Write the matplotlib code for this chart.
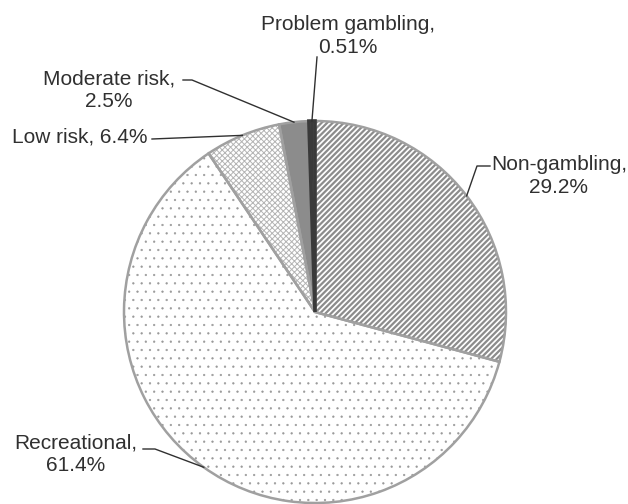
import numpy as np
import matplotlib.pyplot as plt

# data
labels = ['Non-gambling', 'Recreational', 'Low risk', 'Moderate risk', 'Problem gambling']
shares = [29.2, 61.4, 6.4, 2.5, 0.51]
pct_text = ['29.2%', '61.4%', '6.4%', '2.5%', '0.51%']

fills = ['white', 'white', 'white', '#8c8c8c', '#3a3a3a']
hatch_cols = ['#8c8c8c', '#999999', '#b4b4b4', '#8c8c8c', '#3a3a3a']
hatches = ['//////', '..', 'xxxxxx', '', '']
hatch_lw = [1.6, 0.4, 0.7, 1.0, 1.0]
outline_cols = ['#a0a0a0', '#a0a0a0', '#a0a0a0', '#a0a0a0', '#3a3a3a']
outline_lw = [1.8, 1.8, 1.8, 1.8, 2.6]

W, H = 628, 504
fig = plt.figure(figsize=(W / 100, H / 100), dpi=100)
ax = fig.add_axes([0, 0, 1, 1])

cx, cy, r = 315, H - 312, 191

def py(y):
    # pixel row -> data y
    return H - y

wedges, _ = ax.pie(shares, center=(cx, cy), radius=r, startangle=90, counterclock=False,
                   colors=fills, frame=True, wedgeprops=dict(linewidth=0))
for w, hc, h, lw in zip(wedges, hatch_cols, hatches, hatch_lw):
    w.set_edgecolor(hc)
    w.set_hatch(h)
    if hasattr(w, 'set_hatch_linewidth'):
        w.set_hatch_linewidth(lw)

# outlines on top
outl, _ = ax.pie(shares, center=(cx, cy), radius=r, startangle=90, counterclock=False, frame=True,
                 wedgeprops=dict(fill=False))
for w, c, lw in zip(outl, outline_cols, outline_lw):
    w.set_edgecolor(c)
    w.set_linewidth(lw)

ax.set_xlim(0, W)
ax.set_ylim(0, H)
ax.set_aspect('equal')
ax.axis('off')

txt_col = '#303030'
line_col = '#303030'
font = dict(family='Liberation Sans', size=15, color=txt_col, linespacing=1.25)

# label text centre (pixels) and leader elbow points (pixels)
layout = {
    'Non-gambling': ((559, 176), [(490, 166), (477, 166)]),
    'Recreational': ((76, 454), [(143, 449), (155, 449)]),
    'Low risk': ((80, 137), [(152, 139)]),
    'Moderate risk': ((109, 90), [(183, 80), (192, 80)]),
    'Problem gambling': ((348, 36), [(317, 57)]),
}

for w, lab, pct in zip(wedges, labels, pct_text):
    (tx, ty), pts = layout[lab]
    if lab == 'Low risk':
        s = f'{lab}, {pct}'
    else:
        s = f'{lab},\n{pct}'
    ax.text(tx, py(ty), s, ha='center', va='center', **font)
    mid = np.deg2rad((w.theta1 + w.theta2) / 2)
    ex, ey = cx + r * np.cos(mid), cy + r * np.sin(mid)
    xs = [p[0] for p in pts] + [ex]
    ys = [py(p[1]) for p in pts] + [ey]
    ax.plot(xs, ys, color=line_col, linewidth=1.0)

fig.savefig('out.png', dpi=100)
